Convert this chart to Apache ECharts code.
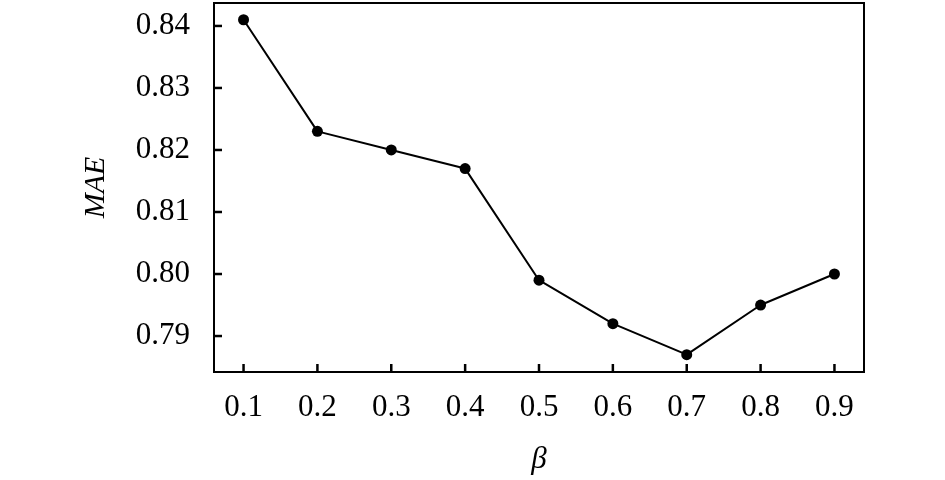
<!DOCTYPE html>
<html>
<head>
  <meta charset="UTF-8">
  <title>MAE - beta</title>
  <script src="https://cdn.jsdelivr.net/npm/echarts@6.0.0/dist/echarts.min.js"></script>
  <style>
    html, body { margin: 0; padding: 0; background: #fff; }
    #main { width: 945px; height: 480px; }
  </style>
</head>
<body>
<div id="main"></div>
<script type="text/javascript">
  // 数据
  var betaValues = [0.1, 0.2, 0.3, 0.4, 0.5, 0.6, 0.7, 0.8, 0.9];
  var maeValues = [0.841, 0.823, 0.820, 0.817, 0.799, 0.792, 0.787, 0.795, 0.800];
  var xTicks = [0.1, 0.2, 0.3, 0.4, 0.5, 0.6, 0.7, 0.8, 0.9];
  var yTicks = [0.79, 0.80, 0.81, 0.82, 0.83, 0.84];

  var xMin = 0.06, xMax = 0.94;
  var yMin = 0.7842, yMax = 0.8437;
  var serif = "'Liberation Serif', 'Times New Roman', serif";
  var tickLen = 8;

  var myChart = echarts.init(document.getElementById('main'));

  var option = {
    animation: false,
    grid: {
      left: 214,
      right: 81,
      top: 3,
      bottom: 108,
      show: true,
      borderColor: '#000',
      borderWidth: 2
    },
    xAxis: {
      type: 'value',
      min: xMin,
      max: xMax,
      name: 'β',
      nameLocation: 'middle',
      nameGap: 72,
      nameTextStyle: { fontFamily: serif, fontStyle: 'italic', fontSize: 31, color: '#000' },
      axisLine: { show: true, lineStyle: { color: '#000', width: 2 } },
      axisTick: { show: false },
      axisLabel: {
        customValues: xTicks,
        margin: 20,
        fontFamily: serif,
        fontSize: 31,
        color: '#000',
        formatter: function (v) { return v.toFixed(1); }
      },
      splitLine: { show: false }
    },
    yAxis: {
      type: 'value',
      min: yMin,
      max: yMax,
      name: 'MAE',
      nameLocation: 'middle',
      nameGap: 103,
      nameTextStyle: { fontFamily: serif, fontStyle: 'italic', fontSize: 30, color: '#000' },
      axisLine: { show: true, lineStyle: { color: '#000', width: 2 } },
      axisTick: { show: false },
      axisLabel: {
        customValues: yTicks,
        margin: 24,
        fontFamily: serif,
        fontSize: 31,
        color: '#000',
        formatter: function (v) { return v.toFixed(2); }
      },
      splitLine: { show: false }
    },
    series: [
      {
        type: 'line',
        data: betaValues.map(function (b, i) { return [b, maeValues[i]]; }),
        symbol: 'circle',
        symbolSize: 11,
        z: 10,
        itemStyle: { color: '#000' },
        lineStyle: { color: '#000', width: 2 }
      }
    ]
  };
  myChart.setOption(option);

  // 朝内的刻度线：用坐标轴换算出像素位置
  var ticks = [];
  xTicks.forEach(function (v) {
    var p = myChart.convertToPixel({ gridIndex: 0 }, [v, yMin]);
    ticks.push({
      type: 'line', silent: true, z: 100,
      shape: { x1: p[0], y1: p[1], x2: p[0], y2: p[1] - tickLen },
      style: { stroke: '#000', lineWidth: 2.5 }
    });
  });
  yTicks.forEach(function (v) {
    var p = myChart.convertToPixel({ gridIndex: 0 }, [xMin, v]);
    ticks.push({
      type: 'line', silent: true, z: 100,
      shape: { x1: p[0], y1: p[1], x2: p[0] + tickLen, y2: p[1] },
      style: { stroke: '#000', lineWidth: 2.5 }
    });
  });
  myChart.setOption({ graphic: ticks });
</script>
</body>
</html>
